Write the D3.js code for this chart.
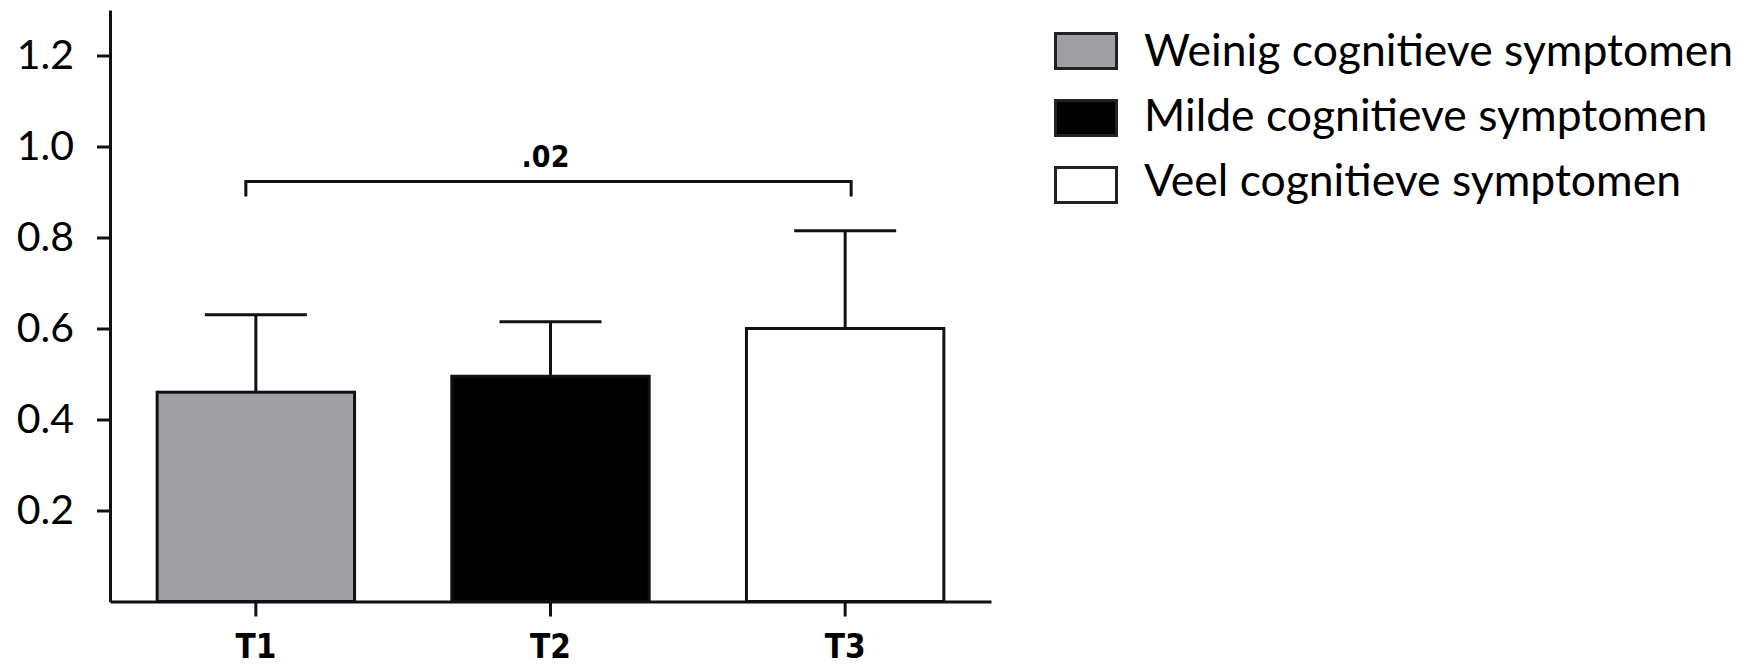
<!DOCTYPE html>
<html>
<head>
<meta charset="utf-8">
<script src="https://cdn.jsdelivr.net/npm/d3@7"></script>
<style>
  html, body { margin: 0; padding: 0; background: #fff; }
  svg { display: block; }
</style>
</head>
<body>
<svg id="chart" width="1751" height="667"></svg>
<script>
// ---- data ----
const categories = ["T1", "T2", "T3"];
const seriesNames = ["Weinig cognitieve symptomen", "Milde cognitieve symptomen", "Veel cognitieve symptomen"];
const means = [0.46, 0.495, 0.60];
const errors = [0.17, 0.12, 0.215];
const yTicks = [0.2, 0.4, 0.6, 0.8, 1.0, 1.2];
const sigLabel = ".02";
const sigLevel = 0.923;

const fills = ["#a0a0a4", "#000000", "#ffffff"];

const svg = d3.select("#chart");
const x0 = 110, x1 = 991, yBase = 601.5, yTop = 10;

const x = d3.scaleBand().domain(categories).range([x0, x1]).paddingInner(0.33).paddingOuter(0.16);
const y = d3.scaleLinear().domain([0, 1.3]).range([yBase, yTop]);

const bw = x.bandwidth();

// bars
svg.append("g").selectAll("rect").data(categories).join("rect")
  .attr("x", d => x(d))
  .attr("y", (d, i) => y(means[i]))
  .attr("width", bw)
  .attr("height", (d, i) => yBase - y(means[i]))
  .attr("fill", (d, i) => fills[i])
  .attr("stroke", "#111")
  .attr("stroke-width", 3);

// error bars
const eg = svg.append("g").attr("stroke", "#111").attr("stroke-width", 3);
categories.forEach((c, i) => {
  const cx = x(c) + bw / 2;
  eg.append("line").attr("x1", cx).attr("x2", cx).attr("y1", y(means[i])).attr("y2", y(means[i] + errors[i]));
  eg.append("line").attr("x1", cx - 51).attr("x2", cx + 51).attr("y1", y(means[i] + errors[i])).attr("y2", y(means[i] + errors[i]));
});

// y axis
const yAxis = svg.append("g").attr("transform", `translate(${x0},0)`)
  .call(d3.axisLeft(y).tickValues(yTicks).tickFormat(d3.format(".1f")).tickSize(13).tickSizeOuter(0).tickPadding(23));
yAxis.selectAll("path, line").attr("stroke", "#111").attr("stroke-width", 3);
yAxis.selectAll("text").attr("font-family", "Lato, 'Open Sans', sans-serif").attr("font-size", 41).attr("fill", "#000");

// x axis
const xAxis = svg.append("g").attr("transform", `translate(0,${yBase})`)
  .call(d3.axisBottom(x).tickSize(15).tickSizeOuter(0).tickPadding(16));
xAxis.select("path").attr("stroke", "#111").attr("stroke-width", 3);
xAxis.selectAll("line").attr("stroke", "#111").attr("stroke-width", 3);
xAxis.selectAll("text").attr("font-family", "'DejaVu Sans Condensed', 'Liberation Sans', sans-serif")
  .attr("font-weight", "bold").attr("font-size", 33).attr("dy", "0.78em").attr("fill", "#000");

// significance bracket
const bl = x("T1") + bw / 2 - 10, br = x("T3") + bw / 2 + 6;
const by = y(sigLevel), bd = y(sigLevel - 0.033);
svg.append("path")
  .attr("d", `M${bl},${bd}V${by}H${br}V${bd}`)
  .attr("fill", "none").attr("stroke", "#111").attr("stroke-width", 3);
svg.append("text").attr("x", (bl + br) / 2 - 3).attr("y", by - 15)
  .attr("text-anchor", "middle")
  .attr("font-family", "'DejaVu Sans Condensed', 'Liberation Sans', sans-serif")
  .attr("font-weight", "bold").attr("font-size", 30).text(sigLabel);

// legend
const lg = svg.append("g").attr("transform", "translate(1054,32)");
seriesNames.forEach((s, i) => {
  const row = lg.append("g").attr("transform", `translate(0,${i * 67})`);
  row.append("rect").attr("x", 1.5).attr("y", 1.5).attr("width", 61).attr("height", 35)
    .attr("fill", fills[i]).attr("stroke", "#222").attr("stroke-width", 3);
  row.append("text").attr("x", 90).attr("y", 34 - i * 2)
    .attr("font-family", "Lato, 'Open Sans', sans-serif").attr("font-size", 44.5).attr("fill", "#000")
    .text(s);
});
</script>
</body>
</html>
